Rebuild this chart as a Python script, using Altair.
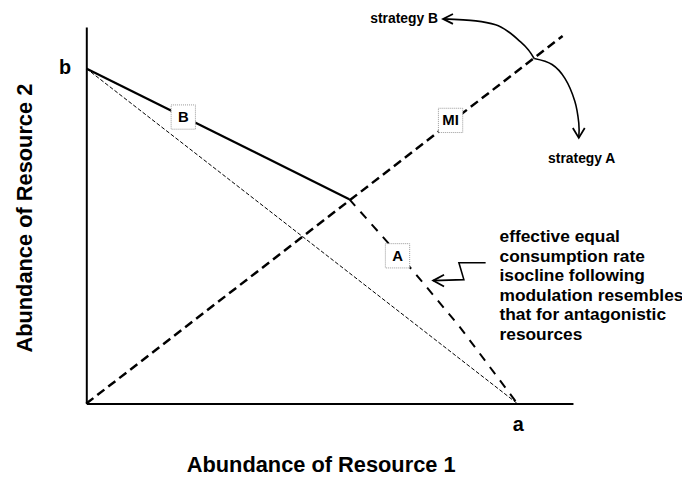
import altair as alt
import pandas as pd

# ---- data (in resource-abundance units; a = b = 10) ----
a_val = 10.0
b_val = 10.0
x_max = 11.29
y_max = 11.24

# MI line (equal modulation)
mi_x = [0.0, 11.05]
mi_y = [0.0, 10.97]
# isocline segment B (solid)
isoB_x = [0.0, 6.1]
isoB_y = [10.0, 6.1]
# isocline segment A (dashed, slightly bowed)
isoA_x = [6.1, 7.6, 8.65, 10.0]
isoA_y = [6.1, 3.93, 2.31, 0.0]
# equal consumption line b -> a (thin dashed)
eq_x = [0.0, 10.0]
eq_y = [10.0, 0.0]

# strategy arrows
arcB_x = [8.276, 9.034, 9.494, 9.793, 10.069, 10.253, 10.391]
arcB_y = [11.479, 11.420, 11.302, 11.095, 10.799, 10.562, 10.296]
arcA_x = [10.391, 10.805, 11.103, 11.333, 11.425, 11.425]
arcA_y = [10.296, 10.118, 9.704, 9.024, 8.373, 7.929]
headB_x = [8.506, 8.276, 8.506]
headB_y = [11.627, 11.479, 11.331]
headA_x = [11.287, 11.425, 11.563]
headA_y = [8.225, 7.929, 8.225]
# zig-zag pointer
zig_x = [9.264, 8.644, 8.759, 8.046]
zig_y = [4.201, 4.201, 3.698, 3.669]
zighead_x = [8.299, 8.046, 8.299]
zighead_y = [3.846, 3.669, 3.491]

# labels
box_labels = ["B", "A", "MI"]
box_x = [2.25, 7.22, 8.45]
box_y = [8.55, 4.41, 8.45]
note_lines = ["effective equal", "consumption rate", "isocline following",
              "modulation resembles", "that for antagonistic", "resources"]

FONT = "Liberation Sans"
xs = alt.Scale(domain=[0, x_max], nice=False, zero=False)
ys = alt.Scale(domain=[0, y_max], nice=False, zero=False)
AX = alt.Axis(domain=True, ticks=False, labels=False, grid=False, title=None,
              domainColor="black", domainWidth=2)


def X(field="x"):
    return alt.X(f"{field}:Q", scale=xs, axis=AX)


def Y(field="y"):
    return alt.Y(f"{field}:Q", scale=ys, axis=AX)


def line_layer(xv, yv, **mark):
    df = pd.DataFrame({"x": xv, "y": yv, "i": list(range(len(xv)))})
    return alt.Chart(df).mark_line(color="black", **mark).encode(
        x=X(), y=Y(), order="i:Q"
    )


def text_layer(x, y, t, **mark):
    df = pd.DataFrame({"x": [x], "y": [y], "t": [t]})
    return alt.Chart(df).mark_text(font=FONT, fontWeight="bold", color="black", **mark).encode(
        x=X(), y=Y(), text="t:N"
    )


eq = line_layer(eq_x, eq_y, strokeWidth=1, strokeDash=[4, 2])
mi = line_layer(mi_x, mi_y, strokeWidth=2.5, strokeDash=[9, 5])
isoB = line_layer(isoB_x, isoB_y, strokeWidth=2.2)
isoA = line_layer(isoA_x, isoA_y, strokeWidth=2, strokeDash=[9, 8])
arcB = line_layer(arcB_x, arcB_y, strokeWidth=1.6, interpolate="cardinal")
arcA = line_layer(arcA_x, arcA_y, strokeWidth=1.6, interpolate="cardinal")
headB = line_layer(headB_x, headB_y, strokeWidth=1.8)
headA = line_layer(headA_x, headA_y, strokeWidth=1.8)
zig = line_layer(zig_x, zig_y, strokeWidth=1.6)
zighead = line_layer(zighead_x, zighead_y, strokeWidth=1.8)

boxdf = pd.DataFrame({"x": box_x, "y": box_y, "t": box_labels})
boxes = alt.Chart(boxdf).mark_square(
    size=600, fill="white", fillOpacity=1, stroke="#999999", strokeWidth=1, strokeDash=[1, 1]
).encode(x=X(), y=Y())
boxtext = alt.Chart(boxdf).mark_text(
    font=FONT, fontWeight="bold", fontSize=15, color="black"
).encode(x=X(), y=Y(), text="t:N")

t_b = text_layer(-0.35, b_val, "b", fontSize=20, align="right")
t_a = text_layer(a_val + 0.02, -0.65, "a", fontSize=20)
t_sB = text_layer(8.16, 11.479, "strategy B", fontSize=14, align="right")
t_sA = text_layer(10.713, 7.308, "strategy A", fontSize=14, align="left")
t_xt = text_layer(5.448, -1.834, "Abundance of Resource 1", fontSize=22)
t_yt = text_layer(-1.425, 5.533, "Abundance of Resource 2", fontSize=22, angle=270)

note = alt.Chart(pd.DataFrame({"x": [9.586], "y": [4.97]})).mark_text(
    font=FONT, fontWeight="bold", fontSize=17.5, align="left", baseline="middle",
    lineHeight=19.8, color="black"
).encode(x=X(), y=Y(), text=alt.value(note_lines))

chart = alt.layer(
    eq, mi, isoB, isoA, arcB, arcA, headB, headA, zig, zighead,
    boxes, boxtext, t_b, t_a, t_sB, t_sA, t_xt, t_yt, note,
).properties(
    width=491, height=380,
    autosize=alt.AutoSizeParams(type="none"),
    padding={"left": 79, "top": 17, "right": 110, "bottom": 71},
).configure(background="white").configure_view(stroke=None)

chart.save("out.html", embed_options={"renderer": "svg", "actions": False})
